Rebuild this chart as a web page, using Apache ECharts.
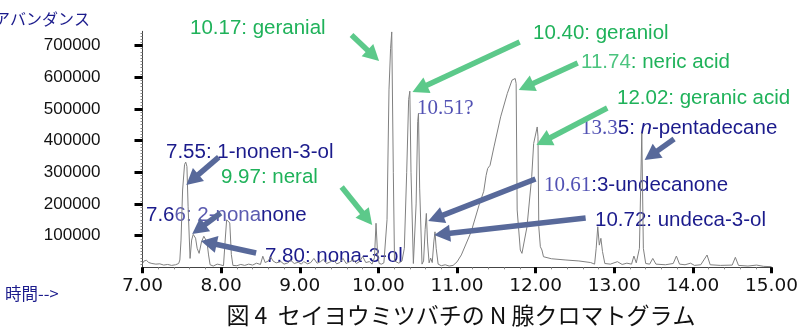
<!DOCTYPE html>
<html>
<head>
<meta charset="utf-8">
<script src="https://cdn.jsdelivr.net/npm/echarts@6/dist/echarts.min.js"></script>
<style>
html, body { margin: 0; padding: 0; background: #fff; }
#chart { width: 801px; height: 327px; }
</style>
</head>
<body>
<div id="chart"></div>
<script>
// Retention time (min) and total-ion abundance of the chromatogram trace
const retentionTime = [
  7.00, 7.02, 7.03, 7.05, 7.08, 7.12, 7.17, 7.22, 7.27, 7.32, 7.37, 7.42, 7.46,
  7.475, 7.49, 7.51, 7.535, 7.55, 7.565, 7.58, 7.605, 7.625, 7.645, 7.66, 7.675,
  7.695, 7.72, 7.75, 7.78, 7.80, 7.82, 7.84, 7.86, 7.90, 7.95, 7.99,
  8.03, 8.05, 8.07, 8.09, 8.11, 8.13, 8.15, 8.20, 8.25, 8.30, 8.35, 8.40, 8.45,
  8.50, 8.53, 8.56, 8.60, 8.63, 8.66, 8.70, 8.76, 8.80, 8.85, 8.885, 8.93, 8.98,
  9.02, 9.05, 9.10, 9.14, 9.18, 9.22, 9.26, 9.30, 9.34, 9.38, 9.43, 9.47, 9.51,
  9.55, 9.59, 9.63, 9.68, 9.72, 9.76, 9.80, 9.84, 9.885, 9.92, 9.95, 9.97, 9.99,
  10.01, 10.04, 10.07, 10.09, 10.11, 10.135, 10.155, 10.17, 10.19, 10.205,
  10.23, 10.26, 10.30, 10.33, 10.36, 10.385, 10.40, 10.415, 10.445,
  10.46, 10.48, 10.50, 10.51, 10.525, 10.555, 10.575, 10.595, 10.61, 10.625,
  10.645, 10.665, 10.685, 10.705, 10.72, 10.735, 10.76, 10.80, 10.85, 10.90, 10.95,
  11.00, 11.055, 11.18, 11.28, 11.34, 11.37, 11.39, 11.42, 11.47, 11.555, 11.64,
  11.70, 11.74, 11.752, 11.765, 11.805, 11.826, 11.89, 11.95, 11.975, 12.02,
  12.03, 12.04, 12.06, 12.08, 12.10, 12.20, 12.385, 12.55, 12.70, 12.75, 12.77,
  12.79, 12.81, 12.83, 12.85, 12.88, 12.95, 13.04, 13.10, 13.16, 13.22, 13.25,
  13.28, 13.32, 13.35, 13.37, 13.40, 13.45, 13.49, 13.53, 13.65, 13.75, 13.79,
  13.83, 13.90, 13.97, 14.02, 14.10, 14.18, 14.22, 14.35, 14.50, 14.54, 14.58,
  14.70, 14.81, 14.90, 15.00
];
const abundance = [
  12000, 20000, 25000, 22000, 15000, 12000, 10000, 11000, 7000, 9000, 6000, 8000, 12000,
  23000, 86000, 244000, 325000, 332000, 318000, 191000, 28000, 86000, 104000, 107000, 92000,
  60000, 44000, 80000, 98000, 102000, 80000, 39000, 8000, 4000, 10000, 8000,
  5000, 80000, 150000, 155000, 140000, 40000, 6000, 5000, 9000, 6000, 10000, 7000, 13000,
  9000, 35000, 15000, 20000, 33000, 20000, 14000, 18000, 10000, 14000, 22000, 12000, 16000,
  10000, 18000, 11000, 15000, 28000, 13000, 17000, 25000, 12000, 16000, 23000, 11000, 15000,
  28000, 12000, 17000, 23000, 12000, 18000, 34000, 15000, 18000, 10000, 30000, 139000, 40000,
  12000, 10000, 14000, 20000, 150000, 560000, 690000, 743000, 300000, 20000,
  18000, 13000, 20000, 60000, 300000, 530000, 556000, 300000, 12000,
  12000, 200000, 460000, 486000, 250000, 10000, 20000, 120000, 170000, 80000,
  14000, 29000, 15000, 80000, 112000, 60000, 10000, 5000, 8000, 4000, 6000,
  17000, 39000, 112000, 196000, 240000, 290000, 312000, 322000, 380000, 475000, 549000,
  591000, 596000, 580000, 181000, 54600, 44000, 128000, 286000, 391000, 443000,
  412000, 128000, 65000, 54600, 33400, 27000, 23000, 20000, 15000, 10000, 60000,
  128000, 70000, 91500, 50000, 12000, 10000, 17700, 9000, 13000, 10000, 35600,
  14000, 60000, 424000, 60000, 12000, 10000, 28000, 10000, 8000, 12000, 35600,
  10000, 8000, 13000, 6000, 8000, 38800, 8000, 6000, 7000, 31500, 6000,
  4000, 7000, 3000, 2000
];

const xTicks = [7, 8, 9, 10, 11, 12, 13, 14, 15];
const yTicks = [100000, 200000, 300000, 400000, 500000, 600000, 700000];

// Callout arrows: [tail time, tail abundance, head time, head abundance, colour index]
const calloutArrows = [
  [7.970, 348000, 7.557, 260000, 0],
  [7.994, 171400, 7.632, 105100, 0],
  [8.445, 45100, 7.744, 83000, 0],
  [11.998, 278700, 10.634, 146100, 0],
  [12.636, 155600, 10.709, 102000, 0],
  [13.761, 405000, 13.386, 338700, 0],
  [9.658, 733200, 10.009, 651000, 1],
  [11.797, 711200, 10.434, 553300, 1],
  [12.535, 644900, 11.785, 559700, 1],
  [12.911, 502800, 12.010, 386100, 1],
  [9.533, 253500, 9.921, 133500, 1]
];

const NAVY = '#1b1b8c';
const SERIF_BLUE = '#5252b4';
const GREEN = '#1fb25a';
const arrowColors = ['#58699a', '#5cc98a'];

const SANS = 'Liberation Sans';
const SERIF = 'Liberation Serif';
const CJK = 'Noto Sans CJK JP';
const LABEL_SIZE = 20.5;

const richStyles = {
  n: { fill: NAVY, fontFamily: SANS, fontSize: LABEL_SIZE },
  ni: { fill: NAVY, fontFamily: SANS, fontSize: LABEL_SIZE, fontStyle: 'italic' },
  nf: { fill: '#5b5bb0', fontFamily: SANS, fontSize: LABEL_SIZE },
  sb: { fill: SERIF_BLUE, fontFamily: SERIF, fontSize: LABEL_SIZE + 0.5 },
  g: { fill: GREEN, fontFamily: SANS, fontSize: LABEL_SIZE },
  gl: { fill: '#4cc47f', fontFamily: SANS, fontSize: LABEL_SIZE }
};

// Compound labels placed beside the peaks they name
const compoundLabels = [
  { x: 190, y: 28, text: '{g|10.17: geranial}' },
  { x: 533, y: 33, text: '{g|10.40: geraniol}' },
  { x: 581, y: 62, text: '{gl|11.74}{g|: neric acid}' },
  { x: 617, y: 98, text: '{g|12.02: geranic acid}' },
  { x: 581, y: 128, text: '{sb|13.3}{n|5: }{ni|n}{n|-pentadecane}' },
  { x: 417, y: 108, text: '{sb|10.51?}' },
  { x: 166, y: 152, text: '{n|7.55: 1-nonen-3-ol}' },
  { x: 221, y: 177, text: '{g|9.97: neral}' },
  { x: 544, y: 185, text: '{sb|10.61}{n|:3-undecanone}' },
  { x: 146, y: 215, text: '{n|7.6}{nf|6: 2-nona}{n|none}' },
  { x: 595, y: 220, text: '{n|10.72: undeca-3-ol}' },
  { x: 265, y: 256, text: '{n|7.80: nona-3-ol}' }
];

const chart = echarts.init(document.getElementById('chart'), null, { renderer: 'canvas' });

function renderArrow(params, api) {
  const p0 = api.coord([api.value(0), api.value(1)]);
  const p1 = api.coord([api.value(2), api.value(3)]);
  const color = arrowColors[api.value(4)];
  const dx = p1[0] - p0[0], dy = p1[1] - p0[1];
  const len = Math.sqrt(dx * dx + dy * dy);
  const ux = dx / len, uy = dy / len;
  const headLen = 16, headHalf = 8.5;
  const bx = p1[0] - ux * headLen, by = p1[1] - uy * headLen;
  return {
    type: 'group',
    children: [
      { type: 'line', shape: { x1: p0[0], y1: p0[1], x2: bx + ux * 2, y2: by + uy * 2 },
        style: { stroke: color, lineWidth: 5.5 } },
      { type: 'polygon',
        shape: { points: [[p1[0], p1[1]], [bx - uy * headHalf, by + ux * headHalf], [bx + uy * headHalf, by - ux * headHalf]] },
        style: { fill: color } }
    ]
  };
}

const graphics = compoundLabels.map(l => ({
  type: 'text', x: l.x, y: l.y, z: 1,
  style: { text: l.text, rich: richStyles, verticalAlign: 'middle', align: 'left',
           fontFamily: SANS, fontSize: LABEL_SIZE }
}));
graphics.push(
  { type: 'text', x: -6, y: 19, style: { text: 'アバンダンス', fill: NAVY, fontFamily: CJK, fontSize: 16, verticalAlign: 'middle' } },
  { type: 'text', x: 5, y: 294, style: { text: '時間-->', fill: NAVY, fontFamily: CJK, fontSize: 16.5, verticalAlign: 'middle' } },
  { type: 'text', x: 461, y: 315, style: { text: '図 4  セイヨウミツバチの N 腺クロマトグラム', fill: '#111', fontFamily: CJK, fontSize: 23, align: 'center', verticalAlign: 'middle' } }
);

chart.setOption({
  animation: false,
  backgroundColor: '#fff',
  grid: { left: 142.5, right: 19, top: 31.3, bottom: 59.7 },
  xAxis: {
    type: 'value', min: 7, max: 15, interval: 1,
    axisLine: { show: true, lineStyle: { color: '#444', width: 1 } },
    axisTick: { show: true, length: 6, lineStyle: { color: '#000', width: 3 }, customValues: xTicks },
    minorTick: { show: true, splitNumber: 5, length: 2, lineStyle: { color: '#888', width: 1 } },
    axisLabel: { customValues: xTicks, formatter: v => v.toFixed(2), margin: 9,
                 fontFamily: 'DejaVu Sans', fontSize: 18.5, color: '#111' },
    splitLine: { show: false }
  },
  yAxis: {
    type: 'value', min: 0, max: 745000, interval: 100000,
    axisLine: { show: true, lineStyle: { color: '#444', width: 1 } },
    axisTick: { show: true, length: 8, lineStyle: { color: '#000', width: 3 }, customValues: yTicks },
    minorTick: { show: true, splitNumber: 10, length: 2, lineStyle: { color: '#888', width: 1 } },
    axisLabel: { customValues: yTicks, formatter: v => String(v), margin: 42,
                 fontFamily: SANS, fontSize: 17, color: '#111' },
    splitLine: { show: false }
  },
  graphic: graphics,
  series: [
    {
      type: 'line',
      data: retentionTime.map((t, i) => [t, abundance[i]]),
      showSymbol: false,
      lineStyle: { color: '#808080', width: 1 },
      silent: true
    },
    {
      type: 'custom',
      renderItem: renderArrow,
      data: calloutArrows,
      encode: { x: [0, 2], y: [1, 3] },
      clip: false,
      silent: true,
      z: 5
    }
  ]
});
</script>
</body>
</html>
